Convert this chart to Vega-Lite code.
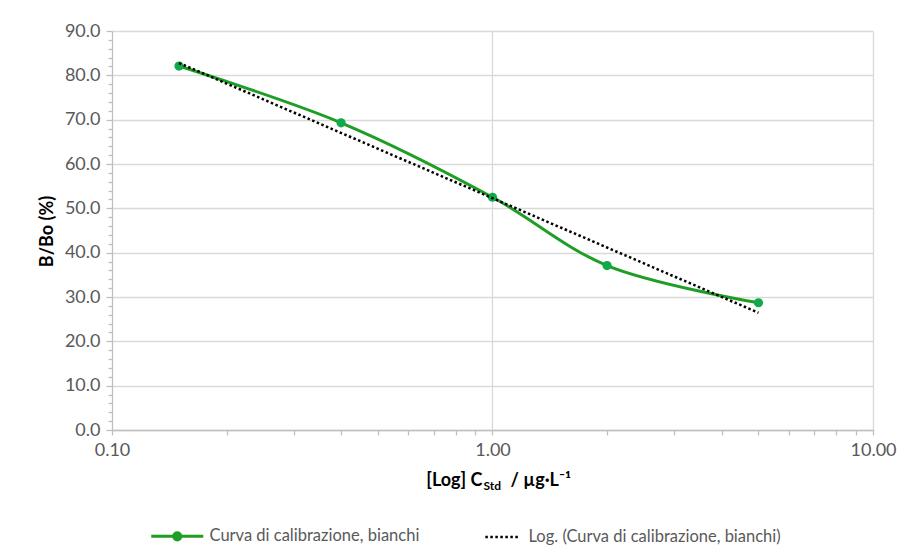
{
  "$schema": "https://vega.github.io/schema/vega-lite/v6.json",
  "width": 761,
  "height": 399,
  "autosize": {"type": "none"},
  "padding": {"left": 112, "top": 31, "right": 33, "bottom": 127},
  "background": "white",
  "config": {
    "font": "Lato",
    "view": {"stroke": null},
    "axis": {"labelFont": "Lato", "titleFont": "Lato"},
    "legend": {"labelFont": "Lato"}
  },
  "data": {
    "values": [
      {"x": 0.15, "y": 82.1},
      {"x": 0.4, "y": 69.3},
      {"x": 1.0, "y": 52.5},
      {"x": 2.0, "y": 37.1},
      {"x": 5.0, "y": 28.7}
    ]
  },
  "resolve": {"axis": {"x": "independent"}},
  "layer": [
    {
      "mark": {"type": "line", "interpolate": "catmull-rom", "strokeWidth": 3, "strokeCap": "round"},
      "encoding": {
        "x": {
          "field": "x", "type": "quantitative",
          "scale": {"type": "log", "domain": [0.1, 10], "nice": false},
          "axis": {
            "orient": "bottom",
            "values": [0.1, 0.2, 0.3, 0.4, 0.5, 0.6, 0.7, 0.8, 0.9, 1, 2, 3, 4, 5, 6, 7, 8, 9, 10],
            "tickCount": 100,
            "labelExpr": "(datum.value == 0.1 || datum.value == 1 || datum.value == 10) ? format(datum.value, '.2f') : ''",
            "labelFontSize": 18,
            "labelColor": "#595959",
            "labelPadding": 6,
            "labelFlush": false,
            "labelOverlap": false,
            "grid": true,
            "gridColor": "#d9d9d9",
            "gridWidth": 1.3,
            "gridOpacity": {"condition": {"test": "datum.value == 1 || datum.value == 10", "value": 1}, "value": 0},
            "tickColor": "#bfbfbf",
            "tickSize": 5,
            "tickWidth": 1.3,
            "domainColor": "#bfbfbf",
            "domainWidth": 1.3,
            "title": "[Log] C",
            "titleFontSize": 18,
            "titleFontWeight": "bold",
            "titleColor": "#000000",
            "titleAlign": "right",
            "titleBaseline": "alphabetic",
            "titleX": 370,
            "titleY": 55
          }
        },
        "y": {
          "field": "y", "type": "quantitative",
          "scale": {"domain": [0, 90], "nice": false},
          "axis": {
            "values": [0, 2, 4, 6, 8, 10, 12, 14, 16, 18, 20, 22, 24, 26, 28, 30, 32, 34, 36, 38, 40, 42, 44, 46, 48, 50, 52, 54, 56, 58, 60, 62, 64, 66, 68, 70, 72, 74, 76, 78, 80, 82, 84, 86, 88, 90],
            "tickCount": 100,
            "labelExpr": "datum.value % 10 === 0 ? format(datum.value, '.1f') : ''",
            "labelFontSize": 18,
            "labelColor": "#595959",
            "labelPadding": 6,
            "labelOverlap": false,
            "labelFlush": false,
            "grid": true,
            "gridColor": "#d9d9d9",
            "gridWidth": 1.3,
            "gridOpacity": {"condition": {"test": "datum.value % 10 === 0", "value": 1}, "value": 0},
            "tickColor": "#bfbfbf",
            "tickWidth": 1.3,
            "tickSize": {"condition": {"test": "datum.value % 10 === 0", "value": 6}, "value": 4},
            "domainColor": "#bfbfbf",
            "domainWidth": 1.3,
            "title": "B/Bo (%)",
            "titleFontSize": 18,
            "titleFontWeight": "bold",
            "titleColor": "#000000",
            "titleAngle": -90,
            "titleAlign": "center",
            "titleBaseline": "middle",
            "titleX": -65,
            "titleY": 200
          }
        },
        "color": {
          "datum": "Curva di calibrazione, bianchi",
          "scale": {
            "domain": ["Curva di calibrazione, bianchi", "Log. (Curva di calibrazione, bianchi)"],
            "range": ["#1E9E24", "#000000"]
          },
          "legend": {
            "title": null,
            "orient": "none",
            "legendX": 57,
            "legendY": 497,
            "direction": "horizontal",
            "columns": 2,
            "columnPadding": 60,
            "labelFontSize": 16.5,
            "labelColor": "#595959",
            "labelOffset": 24,
            "labelLimit": 500,
            "symbolSize": 2704,
            "symbolStrokeWidth": 3,
            "symbolType": "stroke",
            "encode": {
              "symbols": {
                "update": {
                  "shape": {"signal": "datum.value === 'Curva di calibrazione, bianchi' ? 'M-1,0H1M-0.135,0A0.135,0.135,0,1,0,0.135,0A0.135,0.135,0,1,0,-0.135,0' : 'M-0.42,0H0.85'"},
                  "fill": {"signal": "datum.value === 'Curva di calibrazione, bianchi' ? '#12A84C' : 'transparent'"},
                  "strokeDash": {"signal": "datum.value === 'Curva di calibrazione, bianchi' ? [] : [2.5, 2.5]"},
                  "strokeWidth": {"signal": "datum.value === 'Curva di calibrazione, bianchi' ? 3 : 2.5"}
                }
              }
            }
          }
        }
      }
    },
    {
      "mark": {"type": "circle", "size": 85, "opacity": 1, "color": "#12A84C"},
      "encoding": {
        "x": {
          "field": "x", "type": "quantitative",
          "axis": {
            "orient": "bottom", "labels": false, "ticks": false, "domain": false, "grid": false,
            "title": "Std", "titleFontSize": 12, "titleFontWeight": "bold", "titleColor": "#000000",
            "titleAlign": "left", "titleBaseline": "alphabetic", "titleX": 371, "titleY": 59
          }
        },
        "y": {"field": "y", "type": "quantitative"}
      }
    },
    {
      "transform": [{"regression": "y", "on": "x", "method": "log", "extent": [0.15, 5]}],
      "mark": {"type": "line", "strokeWidth": 2.5, "strokeDash": [2.5, 2.5], "strokeCap": "butt"},
      "encoding": {
        "x": {
          "field": "x", "type": "quantitative",
          "axis": {
            "orient": "bottom", "labels": false, "ticks": false, "domain": false, "grid": false,
            "title": "/ µg·L⁻¹", "titleFontSize": 18, "titleFontWeight": "bold", "titleColor": "#000000",
            "titleAlign": "left", "titleBaseline": "alphabetic", "titleX": 398, "titleY": 55
          }
        },
        "y": {"field": "y", "type": "quantitative"},
        "color": {"datum": "Log. (Curva di calibrazione, bianchi)"}
      }
    }
  ]
}
